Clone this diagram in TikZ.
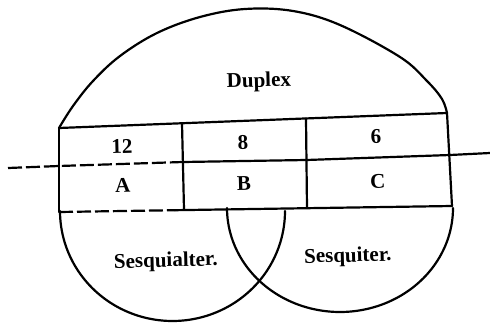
\documentclass[tikz,border=0pt]{standalone}
\usepackage{fontspec}
\setmainfont{Liberation Serif}
\begin{document}
\begin{tikzpicture}[x=1pt,y=-1pt,
  ln/.style={line width=2.2pt, line cap=round, line join=round},
  dsh/.style={line width=2.2pt, dash pattern=on 14pt off 4pt},
  lbl/.style={font=\fontsize{21}{21}\selectfont\bfseries, anchor=base, inner sep=0pt, rotate=1.5}]
\useasboundingbox (0,0) rectangle (490,324);
% table corners and dividers
\coordinate (TL) at (59,128);
\coordinate (TR) at (447,113);
\coordinate (BL) at (59,212);
\coordinate (BR) at (452,206);
\coordinate (BX) at (175,210.2);
\coordinate (D1t) at (182,123.5);
\coordinate (D1b) at (184,209.5);
\coordinate (D2t) at (306,118.5);
\coordinate (D2b) at (307,208);
% axis line
\coordinate (M0) at (8,168);
\coordinate (ML) at (59,166);
\coordinate (M1) at (183,162);
\coordinate (M2) at (306.5,160);
\coordinate (MR) at (450,155);
\coordinate (M3) at (490,153);
% upper arc (Duplex)
\draw[ln] plot[smooth, tension=0.6] coordinates {(59,128) (73,106) (93,81) (120,56) (157,33) (200,17) (245,9) (293,11) (340,25) (400,57) (427,81) (442,99) (447,113)};
% table
\draw[ln] (TL) -- (TR) -- (BR);
\draw[ln] (TL) -- (BL);
\draw[dsh] (BL) -- (BX);
\draw[ln] (BX) -- (BR);
\draw[ln] (D1t) -- (D1b);
\draw[ln] (D2t) -- (D2b);
\draw[dsh] (M0) -- (ML) -- (M1);
\draw[ln] (M1) -- (M2) -- (MR) -- (M3);
% lower arcs
\draw[ln] plot[domain=180:0, samples=90, variable=\t] ({172.5+112.5*cos(\t)},{211+110*sin(\t)});
\draw[ln] plot[domain=180:0, samples=90, variable=\t] ({340+113*cos(\t)},{208+104*sin(\t)});
% labels
\node[lbl] (duplex) at (259,87) {Duplex};
\node[lbl] (n12) at (122,153) {12};
\node[lbl] (n8) at (243,149) {8};
\node[lbl] (n6) at (376,143) {6};
\node[lbl] (na) at (123,192) {A};
\node[lbl] (nb) at (244,190.5) {B};
\node[lbl] (nc) at (378,188) {C};
\node[lbl] (sq1) at (166,267) {Sesquialter.};
\node[lbl] (sq2) at (348,262) {Sesquiter.};
\end{tikzpicture}
\end{document}
